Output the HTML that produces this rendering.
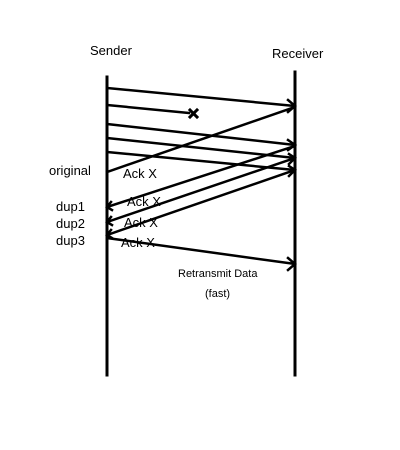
<!DOCTYPE html>
<html><head><style>body{margin:0;background:#fff}svg{display:block}text{font-family:"Liberation Sans",sans-serif;fill:#000}</style></head>
<body>
<svg width="400" height="450" viewBox="0 0 400 450">
<g stroke="#000" stroke-linecap="square">
<line x1="107" y1="77" x2="107" y2="375" stroke-width="3"/>
<line x1="295" y1="72" x2="295" y2="375" stroke-width="3"/>
<g stroke-width="2.5" fill="none">
<line x1="107" y1="88" x2="295" y2="106"/>
<polyline points="288,100 295,106 288,112"/>
<line x1="107" y1="105" x2="189" y2="113"/>
<line x1="107" y1="124" x2="295" y2="145"/>
<polyline points="288,140 295,145 288,150"/>
<line x1="107" y1="138" x2="295" y2="158"/>
<line x1="107" y1="152" x2="295" y2="170"/>
<line x1="107" y1="172" x2="295" y2="107"/>
<line x1="107" y1="207" x2="295" y2="146"/>
<line x1="107" y1="222" x2="295" y2="158"/>
<line x1="107" y1="235" x2="295" y2="170"/>
<polyline points="289,154 295,158 289,164"/>
<polyline points="289,166 295,170 289,176"/>
<line x1="107" y1="238" x2="295" y2="264"/>
<polyline points="288,258 295,264 288,270"/>
<polyline points="111,202 107,207 112,210"/>
<polyline points="111,217 107,222 112,225"/>
<polyline points="111,230 107,235 112,238"/>
</g>
<g stroke-width="3"><line x1="190" y1="110" x2="197" y2="117"/><line x1="197" y1="110" x2="190" y2="117"/></g>
</g>
<text x="90" y="55" font-size="13">Sender</text>
<text x="272" y="58" font-size="13">Receiver</text>
<text x="49" y="175" font-size="13">original</text>
<text x="123" y="178" font-size="13">Ack X</text>
<text x="56" y="211" font-size="13">dup1</text>
<text x="56" y="228" font-size="13">dup2</text>
<text x="56" y="245" font-size="13">dup3</text>
<text x="127" y="206" font-size="13">Ack X</text>
<text x="124" y="227" font-size="13">Ack X</text>
<text x="121" y="247" font-size="13">Ack X</text>
<text x="178" y="277" font-size="11">Retransmit Data</text>
<text x="205" y="297" font-size="11">(fast)</text>
</svg>
</body></html>
